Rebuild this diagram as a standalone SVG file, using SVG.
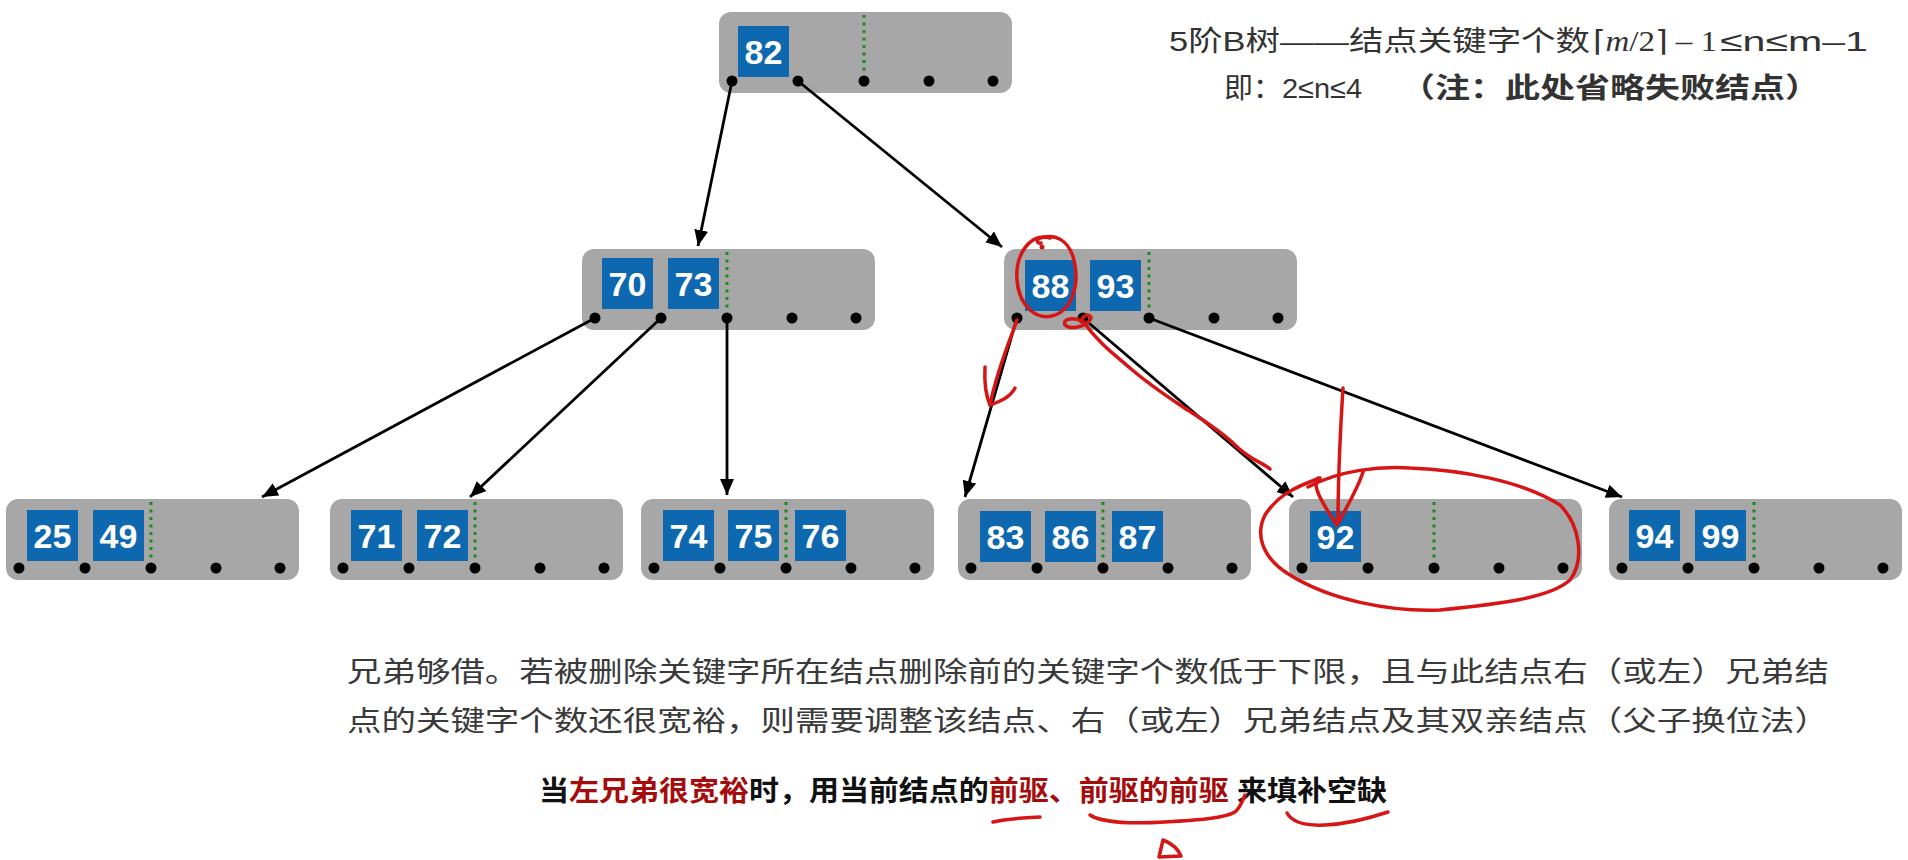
<svg xmlns="http://www.w3.org/2000/svg" width="1908" height="860" viewBox="0 0 1908 860">
<defs>
<style>
.node{fill:#a7a7a7}
.key{fill:#0e68b0}
.kt{fill:#fff;font-family:"Liberation Sans",Arial,sans-serif;font-weight:bold;font-size:34px;text-anchor:middle}
.dot{fill:#000}
.sep{stroke:#1d8a1d;stroke-width:3;stroke-dasharray:3 4.5}
.edge{stroke:#000;stroke-width:2.8;fill:none;marker-end:url(#ah)}
.red{stroke:#d81515;stroke-width:3.5;fill:none;stroke-linecap:round;stroke-linejoin:round}
.cn{font-family:"Liberation Sans","Noto Sans CJK SC",sans-serif;font-size:28px}
.ser{font-family:"Liberation Serif","Times New Roman",serif}
</style>
<marker id="ah" markerUnits="userSpaceOnUse" markerWidth="18" markerHeight="14" refX="16" refY="7" orient="auto">
<path d="M0,0 L16,7 L0,14 Z" fill="#000"/>
</marker>
</defs>
<rect width="1908" height="860" fill="#fff"/>

<g id="root">
<rect class="node" x="719" y="12" width="293" height="81" rx="12"/>
<rect class="key" x="738" y="26" width="51" height="51"/><text class="kt" x="763.5" y="63.5">82</text>
<line class="sep" x1="864" y1="15" x2="864" y2="75"/>
<circle class="dot" cx="732" cy="81" r="5.5"/><circle class="dot" cx="798" cy="81" r="5.5"/><circle class="dot" cx="864" cy="81" r="5.5"/><circle class="dot" cx="929" cy="81" r="5.5"/><circle class="dot" cx="993" cy="81" r="5.5"/>
</g>

<g id="n7073">
<rect class="node" x="582" y="249" width="293" height="81" rx="12"/>
<rect class="key" x="602" y="258" width="51" height="51"/><text class="kt" x="627.5" y="295.5">70</text>
<rect class="key" x="668" y="258" width="51" height="51"/><text class="kt" x="693.5" y="295.5">73</text>
<line class="sep" x1="727" y1="252" x2="727" y2="312"/>
<circle class="dot" cx="595" cy="318" r="5.5"/><circle class="dot" cx="661" cy="318" r="5.5"/><circle class="dot" cx="727" cy="318" r="5.5"/><circle class="dot" cx="792" cy="318" r="5.5"/><circle class="dot" cx="856" cy="318" r="5.5"/>
</g>

<g id="n8893">
<rect class="node" x="1004" y="249" width="293" height="81" rx="12"/>
<rect class="key" x="1025" y="260" width="51" height="51"/><text class="kt" x="1050.5" y="297.5">88</text>
<rect class="key" x="1090" y="260" width="51" height="51"/><text class="kt" x="1115.5" y="297.5">93</text>
<line class="sep" x1="1149" y1="252" x2="1149" y2="312"/>
<circle class="dot" cx="1017" cy="318" r="5.5"/><circle class="dot" cx="1083" cy="318" r="5.5"/><circle class="dot" cx="1149" cy="318" r="5.5"/><circle class="dot" cx="1214" cy="318" r="5.5"/><circle class="dot" cx="1278" cy="318" r="5.5"/>
</g>

<g id="n2549">
<rect class="node" x="6" y="499" width="293" height="81" rx="12"/>
<rect class="key" x="27" y="510" width="51" height="51"/><text class="kt" x="52.5" y="547.5">25</text>
<rect class="key" x="93" y="510" width="51" height="51"/><text class="kt" x="118.5" y="547.5">49</text>
<line class="sep" x1="151" y1="502" x2="151" y2="562"/>
<circle class="dot" cx="19" cy="568" r="5.5"/><circle class="dot" cx="85" cy="568" r="5.5"/><circle class="dot" cx="151" cy="568" r="5.5"/><circle class="dot" cx="216" cy="568" r="5.5"/><circle class="dot" cx="280" cy="568" r="5.5"/>
</g>

<g id="n7172">
<rect class="node" x="330" y="499" width="293" height="81" rx="12"/>
<rect class="key" x="351" y="510" width="51" height="51"/><text class="kt" x="376.5" y="547.5">71</text>
<rect class="key" x="417" y="510" width="51" height="51"/><text class="kt" x="442.5" y="547.5">72</text>
<line class="sep" x1="475" y1="502" x2="475" y2="562"/>
<circle class="dot" cx="343" cy="568" r="5.5"/><circle class="dot" cx="409" cy="568" r="5.5"/><circle class="dot" cx="475" cy="568" r="5.5"/><circle class="dot" cx="540" cy="568" r="5.5"/><circle class="dot" cx="604" cy="568" r="5.5"/>
</g>

<g id="n747576">
<rect class="node" x="641" y="499" width="293" height="81" rx="12"/>
<rect class="key" x="663" y="510" width="51" height="51"/><text class="kt" x="688.5" y="547.5">74</text>
<rect class="key" x="728" y="510" width="51" height="51"/><text class="kt" x="753.5" y="547.5">75</text>
<rect class="key" x="795" y="510" width="51" height="51"/><text class="kt" x="820.5" y="547.5">76</text>
<line class="sep" x1="786" y1="502" x2="786" y2="562"/>
<circle class="dot" cx="654" cy="568" r="5.5"/><circle class="dot" cx="720" cy="568" r="5.5"/><circle class="dot" cx="786" cy="568" r="5.5"/><circle class="dot" cx="851" cy="568" r="5.5"/><circle class="dot" cx="915" cy="568" r="5.5"/>
</g>

<g id="n838687">
<rect class="node" x="958" y="499" width="293" height="81" rx="12"/>
<rect class="key" x="980" y="511" width="51" height="51"/><text class="kt" x="1005.5" y="548.5">83</text>
<rect class="key" x="1045" y="511" width="51" height="51"/><text class="kt" x="1070.5" y="548.5">86</text>
<rect class="key" x="1112" y="511" width="51" height="51"/><text class="kt" x="1137.5" y="548.5">87</text>
<line class="sep" x1="1103" y1="502" x2="1103" y2="562"/>
<circle class="dot" cx="971" cy="568" r="5.5"/><circle class="dot" cx="1037" cy="568" r="5.5"/><circle class="dot" cx="1103" cy="568" r="5.5"/><circle class="dot" cx="1168" cy="568" r="5.5"/><circle class="dot" cx="1232" cy="568" r="5.5"/>
</g>

<g id="n92">
<rect class="node" x="1289" y="499" width="293" height="81" rx="12"/>
<rect class="key" x="1310" y="511" width="51" height="51"/><text class="kt" x="1335.5" y="548.5">92</text>
<line class="sep" x1="1434" y1="502" x2="1434" y2="562"/>
<circle class="dot" cx="1302" cy="568" r="5.5"/><circle class="dot" cx="1368" cy="568" r="5.5"/><circle class="dot" cx="1434" cy="568" r="5.5"/><circle class="dot" cx="1499" cy="568" r="5.5"/><circle class="dot" cx="1563" cy="568" r="5.5"/>
</g>

<g id="n9499">
<rect class="node" x="1609" y="499" width="293" height="81" rx="12"/>
<rect class="key" x="1629" y="510" width="51" height="51"/><text class="kt" x="1654.5" y="547.5">94</text>
<rect class="key" x="1695" y="510" width="51" height="51"/><text class="kt" x="1720.5" y="547.5">99</text>
<line class="sep" x1="1754" y1="502" x2="1754" y2="562"/>
<circle class="dot" cx="1622" cy="568" r="5.5"/><circle class="dot" cx="1688" cy="568" r="5.5"/><circle class="dot" cx="1754" cy="568" r="5.5"/><circle class="dot" cx="1819" cy="568" r="5.5"/><circle class="dot" cx="1883" cy="568" r="5.5"/>
</g>

<g id="connectors">
<line class="edge" x1="732" y1="81" x2="698" y2="246"/>
<line class="edge" x1="798" y1="81" x2="1002" y2="247"/>
<line class="edge" x1="595" y1="318" x2="262" y2="497"/>
<line class="edge" x1="661" y1="318" x2="470" y2="497"/>
<line class="edge" x1="727" y1="318" x2="727" y2="495"/>
<line class="edge" x1="1017" y1="318" x2="965" y2="497"/>
<line class="edge" x1="1083" y1="318" x2="1293" y2="497"/>
<line class="edge" x1="1149" y1="318" x2="1622" y2="497"/>
</g>

<g id="title">
<text class="cn" x="1169" y="51" fill="#333" textLength="421" lengthAdjust="spacingAndGlyphs">5阶B树——结点关键字个数</text>
<text class="ser" x="1593" y="51" font-size="29" fill="#333" textLength="124" lengthAdjust="spacingAndGlyphs">⌈<tspan font-style="italic">m</tspan>/2⌉ – 1</text>
<text class="cn" x="1720" y="51" fill="#333" textLength="148" lengthAdjust="spacingAndGlyphs">≤n≤m–1</text>
<text class="cn" x="1224" y="98" fill="#333" textLength="138" lengthAdjust="spacingAndGlyphs">即：2≤n≤4</text>
<text class="cn" x="1400" y="98" fill="#333" font-weight="bold" textLength="420" lengthAdjust="spacingAndGlyphs">（注：此处省略失败结点）</text>
</g>

<g id="desc">
<text class="cn" x="347" y="682" fill="#3a3a3a" textLength="1482" lengthAdjust="spacingAndGlyphs">兄弟够借。若被删除关键字所在结点删除前的关键字个数低于下限，且与此结点右（或左）兄弟结</text>
<text class="cn" x="347" y="731" fill="#3a3a3a" textLength="1482" lengthAdjust="spacingAndGlyphs">点的关键字个数还很宽裕，则需要调整该结点、右（或左）兄弟结点及其双亲结点（父子换位法）</text>
<text class="cn" x="539" y="801" fill="#111" font-weight="bold" textLength="848" lengthAdjust="spacingAndGlyphs">当<tspan fill="#a50d0d">左兄弟很宽裕</tspan>时，用当前结点的<tspan fill="#a50d0d">前驱、前驱的前驱</tspan> 来填补空缺</text>
</g>

<g id="annotations">
<path class="red" d="M1050,238 C1030,232 1015,255 1017,280 C1019,305 1035,320 1052,316 C1072,311 1080,285 1074,260 C1069,240 1055,233 1040,238 C1036,240 1037,244 1041,243"/>
<circle cx="1042" cy="247" r="2.5" fill="#d81515"/>
<path class="red" d="M1017,320 C1010,340 997,370 990,405"/>
<path class="red" d="M985,367 C984,385 987,398 990,405 C998,402 1010,398 1015,388"/>
<path class="red" d="M1083,322 C1075,317 1062,318 1065,325 C1070,330 1085,327 1090,320 C1094,315 1084,312 1082,320 C1100,345 1115,355 1130,368 S1165,395 1180,405 S1220,430 1235,445 S1262,462 1270,469"/>
<path class="red" d="M1343,388 C1341,420 1338,470 1338,523"/>
<path class="red" d="M1318,478 C1312,485 1320,500 1337,525 C1348,505 1358,488 1363,472"/>
<path class="red" d="M1308,487 C1340,470 1380,466 1410,468 C1460,470 1520,480 1560,505 C1580,525 1585,560 1570,580 C1550,598 1500,604 1440,610 C1390,612 1330,600 1290,575 C1262,558 1255,535 1265,515 C1278,495 1295,487 1320,478"/>
<path class="red" d="M993,822 C1010,818 1025,818 1040,817"/>
<path class="red" d="M1090,815 C1100,822 1130,824 1165,822 C1200,820 1225,818 1235,812 C1240,808 1243,800 1245,795"/>
<path class="red" d="M1159,857 L1163,840 C1172,843 1179,850 1181,856 Z"/>
<path class="red" d="M1287,813 C1292,822 1305,826 1325,825 C1350,824 1370,818 1388,812"/>
</g>
</svg>
